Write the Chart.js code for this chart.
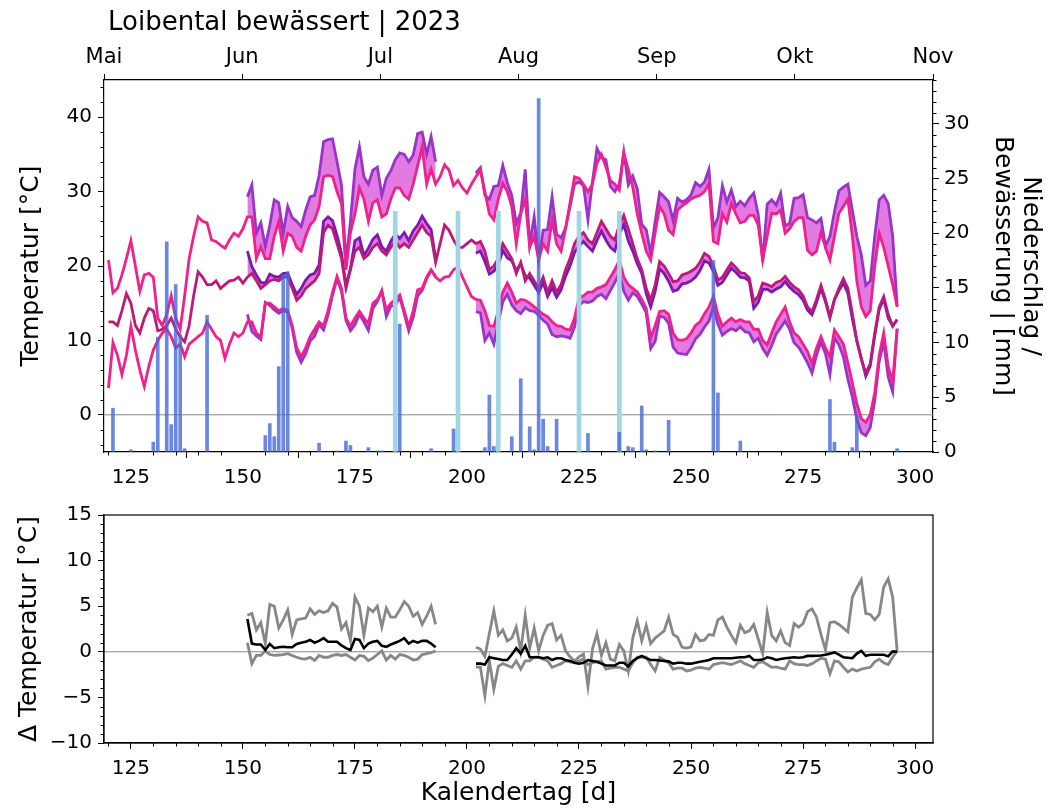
<!DOCTYPE html>
<html>
<head>
<meta charset="utf-8">
<script src="https://cdn.jsdelivr.net/npm/chart.js@4.4.1/dist/chart.umd.min.js"></script>
<style>
  html, body { margin: 0; padding: 0; background: #fff; }
  #wrap { position: relative; width: 1047px; height: 809px; overflow: hidden; }
  canvas { position: absolute; left: 0; }
  #topChart { top: 0; }
  #bottomChart { top: 480px; }
</style>
</head>
<body>
<div id="wrap">
  <canvas id="topChart" width="1047" height="500"></canvas>
  <canvas id="bottomChart" width="1047" height="329"></canvas>
</div>
<script>
// ---- data (day of year 2023) ----
const pinkStart = 120;   // Referenz, Tag 120..296
const purpleStart = 151; // bewaessert, Tag 151..296 (Luecke 194..201)

const pinkMax = [
  20.8, 16.4, 17, 18.8, 21, 23.4, 20, 16.6, 18.8, 19,
  18.5, 13, 12, 13.5, 16, 13, 11.5, 16, 21, 24,
  26.6, 26, 25.8, 23.5, 23.3, 22.8, 22.4, 23.5, 24.4, 24,
  25, 26.6, 26.6, 21, 22.6, 21, 21, 24, 26, 22,
  24.4, 24, 22.5, 22, 24, 25.5, 26.2, 28, 32, 32.2,
  32, 30, 28.4, 19.5, 24.5, 27, 30.5, 29, 26, 28.5,
  28.9, 26.6, 27, 29, 30.5, 30.5, 29.5, 29, 31, 33.5,
  36, 31, 33, 31, 32, 33.6, 32.9, 30.8, 31.5, 30.5,
  29.8, 31, 32, 32.9, 30, 27, 26.2, 29, 31.1, 30,
  28, 23, 27, 29, 22.5, 24, 20.8, 23, 22, 26.2,
  23, 22, 25, 28.5, 32, 31.8, 31, 30, 31, 33.8,
  35, 33.3, 31.5, 31, 30.2, 35.2, 33, 30.6, 27, 24.4,
  22, 20.8, 24.5, 28, 27, 24.8, 24.2, 27.5, 28.1, 28.5,
  29, 29.3, 29.5, 30, 31.1, 23.3, 23, 27, 25.9, 28.4,
  27, 25.8, 26, 26.8, 26.8, 25.5, 20.8, 24, 27.1, 27,
  27.5, 24.4, 25, 26, 26.5, 26.5, 22.1, 21.5, 22, 24.5,
  22.5, 20.8, 24, 27.1, 28, 29, 24, 18, 14.5, 13.2,
  14, 20, 24.4, 22.5, 20, 17.5, 14.5
];
const pinkMean = [
  12.5, 12.5, 12, 14, 16.3, 15, 12, 11, 13, 14.3,
  14, 11.3, 11.5, 12, 13, 11.5, 10.5, 9.8, 12, 16,
  19.2, 18.5, 17.5, 17.5, 18, 17, 17.5, 18, 18.1, 18.5,
  17.7, 18.5, 19, 18, 17, 17.5, 18, 18.2, 18, 18.5,
  18.5, 17, 15.4, 16, 17, 17.5, 18, 19, 24.5, 25.5,
  25, 23, 21, 17, 19.5, 22, 22.5, 21, 21.5, 22.5,
  23, 22, 21.5, 22.5, 23.3, 22.5, 23, 22.5, 23.5, 24.5,
  25.5, 24.5, 24, 20.5, 23, 25.5, 24.8, 23.5, 22.5, 22.5,
  23, 23.5, 23, 23.3, 22, 19.5, 20, 21, 23, 22,
  21, 19, 20.5, 18, 19, 18, 17, 18.5, 16.5, 18,
  16.5, 17.5, 19.5, 21, 23, 24, 24.5, 23.5, 23, 24.5,
  26, 25, 24, 23.5, 25.5, 26.8, 25, 23, 21, 19.5,
  17, 15.4, 17.5, 20.6, 20, 19, 17.9, 18, 18.8, 19,
  19.3, 19.7, 20.5, 21.7, 21.3, 20, 18.1, 18.5, 19.5, 20.4,
  19.8, 19.1, 19, 18.4, 15.2, 16, 17.7, 17.5, 17.2, 17.8,
  18, 18.6, 17.8, 17.2, 16.8, 16, 14.5, 13.9, 15.5, 17.4,
  15.5, 13.2, 15.5, 17, 18.3, 17, 13.6, 10, 7.5, 5.6,
  6.9, 11, 14.5, 15.9, 13.5, 11.9, 12.8
];
const pinkMin = [
  3.6, 9.7, 8, 5.4, 8, 11.9, 8.7, 6, 3.8, 6.5,
  8.7, 10, 11, 11.5, 10.5, 9, 9.5, 7.8, 9.5, 10,
  10.5, 11, 12.5, 11.5, 10.5, 10, 7.6, 9.5, 11, 10.5,
  11, 12.5, 12.5, 11, 10.5, 15, 15, 14.5, 14, 14.3,
  14, 12, 9, 7.8, 9, 10.5, 11.5, 12.5, 12, 14,
  16.5, 18.6, 17, 13, 11.9, 13, 13.9, 13, 12.3, 15,
  15.5, 16.6, 14.1, 15, 15.5, 16.1, 14, 11.9, 14, 16.8,
  17, 18.5, 19.5, 18.5, 18, 18.5, 18.6, 19.5, 19.9, 18.5,
  17.2, 15.9, 15.5, 15.4, 14, 12, 11.9, 14, 16.5, 17.7,
  16.5, 15, 15.5, 15.4, 15, 14.5, 14, 13.5, 13.2, 12.5,
  12, 11.9, 11.5, 11.4, 13, 15.7, 16, 16.5, 16.5, 17,
  17.2, 17.5, 18.5, 19.5, 20.8, 18.5, 17.5, 17, 16.5, 15.5,
  14.3, 10.3, 12, 13.9, 14, 13.5, 11, 10.1, 10, 10.2,
  11, 12, 12.5, 13.6, 14.5, 15.9, 13.5, 11.9, 12.5, 13,
  12.5, 12.8, 12.5, 12.5, 11.5, 11.5, 10, 9.4, 11, 12.5,
  13.5, 14.5, 12.5, 11, 10.5, 9.5, 8.5, 6.9, 9, 10.5,
  9, 7.8, 11.4, 10.5, 9.5, 7, 4.3, 1.5, -0.5, -1,
  0, 3, 8, 11, 6.5, 4.5, 11.5
];

const purpleMax = [
  29.3, 30.9, 24.4, 25.8, 22.6, 25.5, 28.9, 28.5, 24.4, 28,
  26.5, 26, 25.3, 27.5, 29.3, 29.5, 32.2, 36.7, 37, 37.1,
  34, 30.9, 20.5, 26, 33, 36, 32, 31, 32.9, 33.3,
  29.5, 31.8, 32.8, 34.3, 35.2, 35, 34, 34.9, 37.8, 38,
  35, 37.4, 34,
  null, null, null, null, null, null, null, null,
  32.5, 33.2, 29.5, 29, 30.7, 30.8, 33.5, 31.2, 29.5, 25.7,
  27.1, 33, 22.9, 26.6, 20.9, 24.8, 24.9, 29.3, 24.3, 23.8,
  25.1, 28, 31, 31.3, 30.8, 26.2, 31.3, 35.8, 34.6, 34.3,
  30.7, 30, 31, 35.3, 30.9, 32.1, 30.4, 25.6, 24.9, 21.7,
  26, 29.9, 29.3, 28.6, 26.1, 29.1, 28.6, 28.9, 29.55, 31.2,
  30.7, 31.3, 33, 25.1, 26.5, 30.8, 28.6, 30.2, 28, 28.7,
  28.1, 29.1, 29.8, 26.9, 20.6, 28.3, 28.9, 28.2, 29.8, 25.4,
  25.7, 29.1, 29.2, 29.6, 26.5, 26.2, 25.8, 26.4, 22.7, 24,
  27.3, 30.1, 30.6, 31, 27.5, 24, 21.5, 17.4, 18, 24,
  28.9, 29.5, 28.4, 24, 14.6
];
const purpleMean = [
  22, 19.9, 18.8, 17.8, 17.7, 18.9, 18.6, 18.5, 19, 19,
  17.5, 16.2, 17, 18.1, 18.8, 19, 20.2, 26, 26.6, 26.1,
  24.1, 21.7, 17.4, 19.7, 23.4, 23.8, 21.4, 22.4, 23.6, 24.2,
  22.6, 22, 23.3, 24.3, 23.7, 24.5, 23.4, 24.7, 25.5, 26.7,
  25.7, 24.9, 21,
  null, null, null, null, null, null, null, null,
  21.7, 22, 20.6, 18.9, 19.3, 20.2, 22.1, 21.1, 20.7, 19.4,
  20.3, 18.7, 18.4, 17.4, 16.4, 17.8, 15.9, 17.1, 15.8, 16.8,
  18.6, 20, 21.8, 22.7, 23.3, 22.6, 22, 23.4, 24.7, 23.5,
  22.5, 22, 24.3, 25.6, 23.4, 22, 20.3, 19, 16.3, 14.5,
  16.6, 19.65, 19, 17.95, 16.6, 16.8, 17.6, 17.7, 18, 18.5,
  19.4, 20.7, 20.4, 19.3, 17.4, 17.8, 18.8, 19.7, 19.15, 18.5,
  18.4, 17.95, 14.3, 15.1, 16.85, 16.9, 16.5, 16.9, 17.2, 17.9,
  17.15, 16.6, 16.15, 15.4, 14.05, 13.45, 15.06, 17, 15.17, 13,
  15.43, 16.7, 17.7, 16.35, 12.9, 9.9, 7.6, 5.2, 6.57, 10.67,
  14.17, 15.57, 13, 11.95, 12.8
];
const purpleMin = [
  13.5, 11.2, 10.6, 10.1, 15.1, 14.7, 14.1, 13.65, 14, 13.8,
  11.6, 8.4, 7.05, 8.2, 9.9, 10.55, 12.1, 11.4, 13.4, 16.1,
  18.3, 16.6, 12.7, 11.3, 12.1, 13.5, 12.5, 11.35, 14.3, 15.2,
  16.7, 13.2, 14.6, 14.7, 15.8, 13.6, 11.3, 13.1, 16, 16.7,
  18.3, 19.4, 18.6,
  null, null, null, null, null, null, null, null,
  13.85, 13.7, 10, 11, 9.5, 12.4, 15.2, 16.2, 14.8, 14,
  13.6, 14.4, 14, 13.9, 13.4, 12.7, 12.2, 10.8, 10.5, 10.6,
  10.5, 10.3, 11.8, 14.7, 15.2, 15.1, 15.3, 15.9, 16.2, 15.6,
  16.7, 17.8, 19.1, 16.6, 15.4, 16.4, 15.9, 14.9, 13.7, 8.9,
  9.9, 13.3, 13.1, 12.3, 9.1, 8.3, 8.2, 8.1, 9, 10.2,
  10.8, 11.8, 12.6, 14.5, 12.2, 10.7, 11.2, 11.6, 11.3, 11.8,
  11.2, 11, 9.8, 10.3, 8.9, 8, 9.3, 10.85, 11.7, 12.6,
  11.5, 9.7, 9.1, 8.1, 7, 5.6, 8, 9.8, 8.2, 5.4,
  10.4, 9.4, 7.8, 4.8, 2.4, -0.6, -2.4, -2.8, -1.7, 1.9,
  7.2, 9.8, 5.1, 3.1, 11.6
];

// Differenz bewaessert - Referenz
const deltaMax = [
  4.0, 4.2, 2.4, 3.2, 0.9, 5.2, 5.0, 2.6, 3.5, 4.6,
  1.9, 3.5, 3.6, 3.7, 4.7, 4.1, 4.5, 4.3, 4.5, 5.3,
  4.9, 2.5, 3.2, 1.2, 6.0, 5.0, 1.8, 4.8, 4.4, 5.0,
  2.7, 4.8, 3.8, 3.8, 4.6, 5.5, 5.0, 3.9, 4.3, 3.0,
  3.9, 5.0, 3.0,
  null, null, null, null, null, null, null, null,
  0.5, 0.3, -0.5, 2.0, 4.5, 1.8, 2.4, 1.2, 1.5, 2.7,
  0.1, 4.0, 0.4, 2.6, 0.1, 1.8, 2.9, 3.1, 1.3, 1.8,
  0.1, -0.55, -1.0, -0.55, -0.25, -3.8, 0.3, 2.0, -0.4, 1.0,
  -0.8, -1.0, 0.8, 0.1, -2.1, 1.5, 3.4, 1.2, 2.9, 0.9,
  1.5, 1.9, 2.3, 3.8, 1.9, 1.6, 0.5, 0.4, 0.55, 1.9,
  1.2, 1.3, 1.9, 1.8, 3.5, 3.8, 2.7, 1.8, 1.0, 2.9,
  2.1, 2.3, 3.0, 1.4, -0.2, 4.3, 1.8, 1.2, 2.3, 1.0,
  0.7, 3.1, 2.7, 3.1, 4.4, 4.7, 3.8, 1.9, 0.2, 3.2,
  3.3, 3.0, 2.6, 2.2, 6.0, 7.0, 7.9, 4.2, 4.1, 3.5,
  4.1, 7.1, 8.0, 6.0, 0.1
];
const deltaMean = [
  3.6, 0.9, 0.8, 0.8, 0.2, 0.85, 0.4, 0.5, 0.55, 0.5,
  0.5, 0.85, 1.0, 1.1, 1.3, 1.0, 1.2, 1.5, 1.1, 1.1,
  1.1, 0.7, 0.4, 0.2, 1.4, 1.3, 0.4, 0.9, 1.1, 1.2,
  0.65, 0.55, 0.8, 1.0, 1.2, 1.5, 0.9, 1.2, 1.0, 1.2,
  1.2, 0.9, 0.5,
  null, null, null, null, null, null, null, null,
  -1.3, -1.3, -1.4, -0.6, -0.7, -0.8, -0.9, -0.9, -0.3, 0.4,
  -0.2, 0.66, -0.6, -0.6, -0.6, -0.7, -0.6, -0.9, -0.7, -0.7,
  -0.9, -1.0, -1.2, -1.3, -1.2, -0.9, -1.0, -1.1, -1.3, -1.5,
  -1.5, -1.5, -1.2, -1.2, -1.6, -1.0, -0.7, -0.45, -0.7, -0.9,
  -0.9, -0.95, -1.0, -1.05, -1.3, -1.2, -1.2, -1.3, -1.3, -1.2,
  -1.1, -1.0, -0.9, -0.7, -0.7, -0.7, -0.7, -0.7, -0.65, -0.6,
  -0.6, -0.45, -0.9, -0.9, -0.85, -0.6, -0.7, -0.9, -0.8, -0.7,
  -0.65, -0.6, -0.65, -0.6, -0.45, -0.45, -0.44, -0.4, -0.33, -0.2,
  -0.07, -0.3, -0.6, -0.65, -0.7, -0.2, 0.1, -0.44, -0.33, -0.33,
  -0.33, -0.33, -0.5, 0.05, 0.0
];
const deltaMin = [
  1.0, -1.3, -0.4, -0.4, 0.1, -0.3, -0.4, -0.35, -0.3, -0.2,
  -0.4, -0.6, -0.75, -0.8, -0.6, -0.95, -0.4, -0.6, -0.6, -0.4,
  -0.3, -0.4, -0.3, -0.6, -0.9, -0.4, -0.5, -0.95, -0.7, -0.3,
  0.1, -0.9, -0.4, -0.8, -0.3, -0.4, -0.6, -0.9, -0.8, -0.3,
  -0.2, -0.1, 0.1,
  null, null, null, null, null, null, null, null,
  -1.65, -1.7, -4.8, -1.0, -4.1, -1.6, -1.3, -1.5, -1.7, -1.0,
  -1.9, -1.0, -1.0, -0.6, -0.6, -0.8, -1.0, -1.7, -1.5, -1.3,
  -1.0, -1.1, -1.2, -1.0, -0.8, -1.4, -1.2, -1.1, -1.0, -1.9,
  -1.8, -1.7, -1.7, -1.9, -2.1, -1.2, -0.6, -0.6, -0.6, -1.4,
  -2.1, -0.6, -0.9, -1.2, -1.9, -1.8, -1.8, -2.1, -2.0, -1.8,
  -1.7, -1.8, -1.9, -1.4, -1.3, -1.2, -1.3, -1.4, -1.2, -1.0,
  -1.3, -1.5, -1.7, -1.2, -1.1, -1.4, -1.7, -1.65, -1.8, -1.9,
  -1.0, -1.3, -1.4, -1.4, -1.5, -1.3, -1.0, -0.7, -0.8, -2.4,
  -1.0, -1.1, -1.7, -2.2, -1.9, -2.1, -1.9, -1.8, -1.7, -1.1,
  -0.8, -1.2, -1.4, -0.6, 0.1
];

// Niederschlag und Bewaesserung [mm]
const rainDays = [121, 125, 130, 131, 133, 134, 135, 136, 137, 142, 155, 156, 157, 158, 159, 160, 167, 171, 173, 174,
  178, 180, 181, 185, 192, 197, 204, 205, 206, 210, 212, 214, 215, 216, 217, 218, 220, 227, 234, 236,
  237, 239, 240, 242, 245, 255, 256, 261, 281, 282, 286, 287, 288, 296];
const rainMm = [4.0, 0.2, 0.9, 10.5, 19.2, 2.5, 15.3, 10.7, 0.3, 12.5, 1.5, 2.6, 1.4, 7.8, 16.2, 16.5, 0.8, 0.1, 1.0, 0.6,
  0.4, 0.1, 0.1, 11.7, 0.3, 2.1, 0.4, 5.2, 0.5, 1.4, 6.7, 2.3, 0.2, 32.3, 3.0, 0.5, 3.0, 1.7, 1.8, 0.5,
  0.4, 4.2, 0.2, 0.1, 2.9, 17.5, 5.4, 1.0, 4.8, 0.9, 0.4, 3.3, 0.1, 0.3];
const irrigDays = [184, 198, 207, 225, 234];
const irrigMm = [22, 22, 22, 22, 22];

const dayTicks = [125, 150, 175, 200, 225, 250, 275, 300];
const tempTicks = [0, 10, 20, 30, 40];
const mmTicks = [0, 5, 10, 15, 20, 25, 30];
const deltaTicks = [-10, -5, 0, 5, 10, 15];
const monthTicks = [5, 6, 7, 8, 9, 10, 11];
const monthNames = ['Mai', 'Jun', 'Jul', 'Aug', 'Sep', 'Okt', 'Nov'];

// ---- helpers ----
const pts = (start, arr) => arr.map((v, i) => ({ x: start + i, y: v }));
const pairs = (xs, ys) => xs.map((x, i) => ({ x: x, y: ys[i] }));
const setTicks = list => s => { s.ticks = list.map(v => ({ value: v })); };
const minus = v => String(v).replace('-', '\u2212');

Chart.defaults.font.family = 'DejaVu Sans';
Chart.defaults.color = '#000';

const PINK = '#f0208c';
const PINK_MEAN = '#bc1a78';
const PURPLE = '#9a34c8';
const PURPLE_MEAN = '#7e16b4';
const FILL = 'rgba(214, 72, 214, 0.72)';
const LW = 2.8;

const minorTicks = {
  id: 'minorTicks',
  afterDraw(chart, args, opts) {
    const ctx = chart.ctx;
    ctx.save();
    ctx.strokeStyle = '#000';
    ctx.lineWidth = 1;
    ctx.beginPath();
    (opts.list || []).forEach(m => {
      const sc = chart.scales[m.axis];
      for (let k = 0; ; k++) {
        const v = m.from + k * m.step;
        if (v > m.to + 1e-9) break;
        if (m.major && Math.abs(v / m.major - Math.round(v / m.major)) < 1e-6) continue;
        const p = Math.round(sc.getPixelForValue(v)) + 0.5;
        if (sc.isHorizontal()) {
          const y0 = sc.position === 'top' ? sc.bottom : sc.top;
          const dir = sc.position === 'top' ? -1 : 1;
          ctx.moveTo(p, y0); ctx.lineTo(p, y0 + dir * m.len);
        } else {
          const x0 = sc.position === 'left' ? sc.right : sc.left;
          const dir = sc.position === 'left' ? -1 : 1;
          ctx.moveTo(x0, p); ctx.lineTo(x0 + dir * m.len, p);
        }
      }
    });
    ctx.stroke();
    ctx.restore();
  }
};

const frame = {
  id: 'frame',
  afterDraw(chart) {
    const a = chart.chartArea, ctx = chart.ctx;
    ctx.save();
    ctx.strokeStyle = '#000';
    ctx.lineWidth = 1.2;
    ctx.strokeRect(a.left, a.top, a.right - a.left, a.bottom - a.top);
    ctx.restore();
  }
};

const titleText = {
  id: 'titleText',
  afterDraw(chart) {
    const ctx = chart.ctx;
    ctx.save();
    ctx.font = '26px "DejaVu Sans"';
    ctx.fillStyle = '#000';
    ctx.textBaseline = 'middle';
    ctx.fillText('Loibental bewässert | 2023', 108, 23);
    ctx.restore();
  }
};

const tickGrid = { drawOnChartArea: false, drawTicks: true, tickLength: 6, color: '#000', lineWidth: 1 };
const axisBorder = { display: true, color: '#000', width: 1.2 };
const tickFont = { size: 20 };
const titleFont = { size: 25, lineHeight: 1.2 };

const lineDs = (label, data, color, extra) => Object.assign({
  type: 'line', label: label, data: data, borderColor: color, borderWidth: LW,
  pointRadius: 0, tension: 0, spanGaps: false, fill: false, yAxisID: 'y', xAxisID: 'x'
}, extra || {});

// ---- top chart ----
new Chart(document.getElementById('topChart'), {
  type: 'line',
  data: {
    datasets: [
      { type: 'bar', label: 'Niederschlag', data: pairs(rainDays, rainMm), yAxisID: 'y2', xAxisID: 'x',
        backgroundColor: 'rgba(70, 105, 215, 0.8)', barThickness: 3, grouped: false, order: 0 },
      { type: 'bar', label: 'Bewässerung', data: pairs(irrigDays, irrigMm), yAxisID: 'y2', xAxisID: 'x',
        backgroundColor: 'rgb(160, 214, 228)', barThickness: 4, grouped: false, order: 1 },
      lineDs('Tmax Referenz', pts(pinkStart, pinkMax), PINK, { order: 3 }),
      lineDs('Tmittel Referenz', pts(pinkStart, pinkMean), PINK_MEAN, { order: 3 }),
      lineDs('Tmin Referenz', pts(pinkStart, pinkMin), PINK, { order: 3 }),
      lineDs('Tmax bewässert', pts(purpleStart, purpleMax), PURPLE,
        { order: 4, fill: { target: 2, above: FILL, below: FILL } }),
      lineDs('Tmittel bewässert', pts(purpleStart, purpleMean), PURPLE_MEAN,
        { order: 4, fill: { target: 3, above: FILL, below: FILL } }),
      lineDs('Tmin bewässert', pts(purpleStart, purpleMin), PURPLE,
        { order: 4, fill: { target: 4, above: FILL, below: FILL } }),
      lineDs('Null', [{ x: 119, y: 0 }, { x: 304, y: 0 }], 'rgb(135,135,135)', { borderWidth: 1, order: 5 })
    ]
  },
  options: {
    responsive: false,
    animation: false,
    events: [],
    layout: { padding: 0 },
    plugins: {
      legend: { display: false },
      tooltip: { enabled: false },
      filler: { drawTime: 'beforeDatasetsDraw' },
      minorTicks: {
        list: [
          { axis: 'x', from: 120, to: 300, step: 5, major: 25, len: 3.5 },
          { axis: 'y', from: -4, to: 44, step: 2, major: 10, len: 3.5 },
          { axis: 'y2', from: 1, to: 34, step: 1, major: 5, len: 3.5 }
        ]
      }
    },
    scales: {
      x: {
        type: 'linear', position: 'bottom', min: 119, max: 304, offset: false,
        afterBuildTicks: setTicks(dayTicks),
        ticks: { font: tickFont, padding: 8, maxRotation: 0, autoSkip: false },
        grid: tickGrid, border: axisBorder,
        afterFit: s => { s.height = 48; }
      },
      xTop: {
        type: 'linear', position: 'top', min: 5, max: 11, offset: false,
        afterBuildTicks: setTicks(monthTicks),
        ticks: { font: { size: 21 }, padding: 4, maxRotation: 0, autoSkip: false,
          callback: v => monthNames[v - 5] },
        grid: tickGrid, border: axisBorder,
        afterFit: s => { s.height = 80; }
      },
      y: {
        type: 'linear', position: 'left', min: -5, max: 45,
        afterBuildTicks: setTicks(tempTicks),
        ticks: { font: tickFont, padding: 6 },
        grid: tickGrid, border: axisBorder,
        title: { display: true, text: 'Temperatur [°C]', font: titleFont, padding: { top: 16 } },
        afterFit: s => { s.width = 104; }
      },
      y2: {
        type: 'linear', position: 'right', min: 0, max: 34,
        afterBuildTicks: setTicks(mmTicks),
        ticks: { font: tickFont, padding: 5 },
        grid: tickGrid, border: axisBorder,
        title: { display: true, text: ['Niederschlag /', 'Bewässerung | [mm]'], font: { size: 25, lineHeight: 1.1 },
          padding: { top: 3 } },
        afterFit: s => { s.width = 114; }
      }
    }
  },
  plugins: [minorTicks, titleText]
});

// ---- bottom chart ----
new Chart(document.getElementById('bottomChart'), {
  type: 'line',
  data: {
    datasets: [
      lineDs('Δ Tmittel', pts(purpleStart, deltaMean), '#000', { borderWidth: 2.6, order: 0 }),
      lineDs('Δ Tmax', pts(purpleStart, deltaMax), 'rgb(135,135,135)', { order: 1 }),
      lineDs('Δ Tmin', pts(purpleStart, deltaMin), 'rgb(135,135,135)', { order: 1 }),
      lineDs('Null', [{ x: 119, y: 0 }, { x: 304, y: 0 }], 'rgb(135,135,135)', { borderWidth: 1, order: 2 })
    ]
  },
  options: {
    responsive: false,
    animation: false,
    events: [],
    layout: { padding: { top: 35, right: 114, left: 0, bottom: 0 } },
    plugins: {
      legend: { display: false },
      tooltip: { enabled: false },
      minorTicks: {
        list: [
          { axis: 'x', from: 120, to: 300, step: 5, major: 25, len: 3.5 },
          { axis: 'y', from: -10, to: 15, step: 1, major: 5, len: 3.5 }
        ]
      }
    },
    scales: {
      x: {
        type: 'linear', position: 'bottom', min: 119, max: 304, offset: false,
        afterBuildTicks: setTicks(dayTicks),
        ticks: { font: tickFont, padding: 8, maxRotation: 0, autoSkip: false },
        grid: tickGrid, border: axisBorder,
        title: { display: true, text: 'Kalendertag [d]', font: titleFont, padding: { bottom: 1 } },
        afterFit: s => { s.height = 66; }
      },
      y: {
        type: 'linear', position: 'left', min: -10, max: 15,
        afterBuildTicks: setTicks(deltaTicks),
        ticks: { font: tickFont, padding: 6, callback: v => minus(v) },
        grid: tickGrid, border: axisBorder,
        title: { display: true, text: 'Δ Temperatur [°C]', font: titleFont, padding: { top: 14 } },
        afterFit: s => { s.width = 104; }
      }
    }
  },
  plugins: [minorTicks, frame]
});
</script>
</body>
</html>
